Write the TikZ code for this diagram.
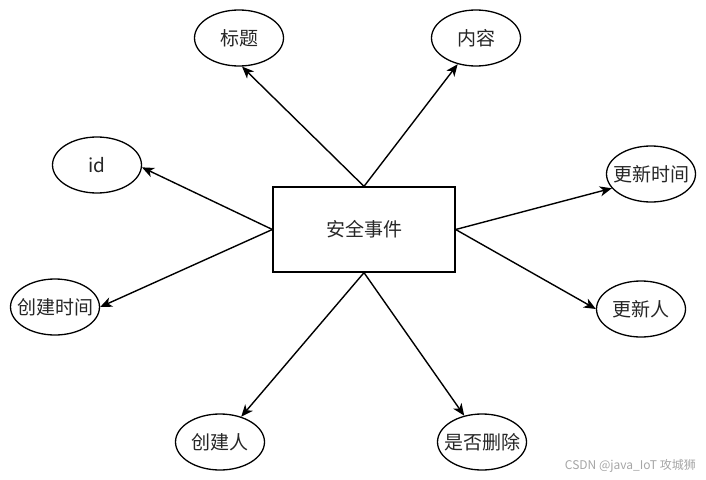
\documentclass[tikz,border=0pt]{standalone}
\usepackage{fontspec}
\setmainfont{Noto Sans CJK SC}
\usetikzlibrary{shapes.geometric,arrows.meta}
\tikzset{
  attr/.style={draw, line width=1.3pt, shape=ellipse, minimum width=89pt, minimum height=56pt, inner sep=0pt, font=\fontsize{19}{22}\selectfont, text=black!85},
  entity/.style={draw, line width=1.3pt, minimum width=182pt, minimum height=85pt, inner sep=0pt, font=\fontsize{19}{22}\selectfont, text=black!85},
  link/.style={line width=1.4pt, -{Stealth[length=12pt,width=10pt,inset=3.5pt]}},
}
\newcommand{\zw}[1]{\makebox[0pt]{#1}}
\begin{document}
\begin{tikzpicture}[x=1pt,y=-1pt]
\fill[white] (0,0) rectangle (706,479);
\useasboundingbox (0,0) rectangle (706,479);
\node[entity] (e) at (364,229.5) {安全事件};
\node[attr] (t) at (239,38) {\zw{标题}};
\node[attr] (c) at (476,38) {\zw{内容}};
\node[attr] (id) at (97,165) {\zw{id}};
\node[attr] (ut) at (651,174) {\zw{更新时间}};
\node[attr] (ct) at (55,307) {\zw{创建时间}};
\node[attr] (up) at (641,309) {\zw{更新人}};
\node[attr] (cr) at (220,442) {\zw{创建人}};
\node[attr] (del) at (482,442) {\zw{是否删除}};
\draw[link] (e.north) -- (t.-84);
\draw[link] (e.north) -- (c.-125);
\draw[link] (e.west) -- (id.-3);
\draw[link] (e.west) -- (ct.0);
\draw[link] (e.east) -- (ut.-160);
\draw[link] (e.east) -- (up.180);
\draw[link] (e.south) -- (cr.50);
\draw[link] (e.south) -- (del.124);
\node[text=black!35, font=\fontsize{12}{14}\selectfont, anchor=east, inner sep=0pt] (wm) at (696,466) {CSDN @java\_IoT 攻城狮};
\end{tikzpicture}
\end{document}
